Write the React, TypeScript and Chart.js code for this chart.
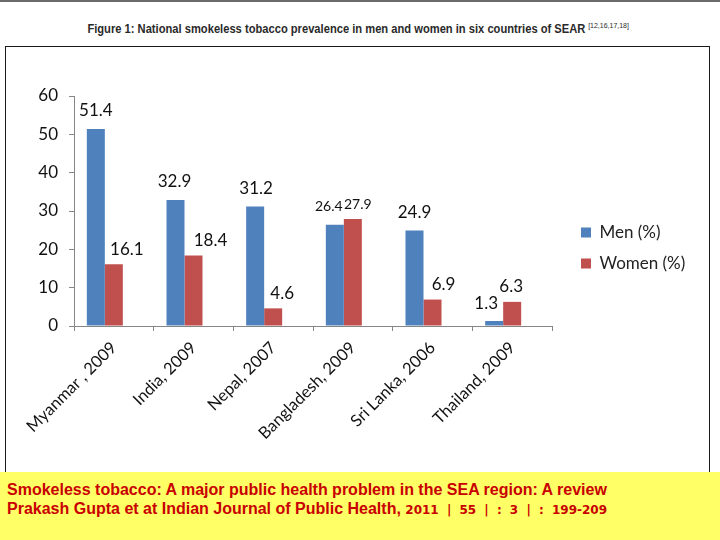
import React, { useEffect, useRef } from "react";
import { Chart, registerables } from "chart.js";

Chart.register(...registerables);

const categories = [
  "Myanmar , 2009",
  "India, 2009",
  "Nepal, 2007",
  "Bangladesh, 2009",
  "Sri Lanka, 2006",
  "Thailand, 2009",
];
const menValues = [51.4, 32.9, 31.2, 26.4, 24.9, 1.3];
const womenValues = [16.1, 18.4, 4.6, 27.9, 6.9, 6.3];
const seriesNames = ["Men (%)", "Women (%)"];
const yMax = 60;
const yStep = 10;

const FONT = "Lato, 'Open Sans', sans-serif";

// label nudges (pixels) copied from the reference's hand-placed data labels
const labelNudgeX = [
  [0, -1, 1, -6, 0, -8],
  [13, 17, 9, 5, 11, -1],
];
const labelLift = [18, 15];
const labelFontSize = [17, 17, 17, 14, 17, 17];

export default function App() {
  const ref = useRef<HTMLCanvasElement | null>(null);

  useEffect(() => {
    document.body.style.margin = "0";
    const canvas = ref.current;
    if (!canvas) return;

    const dataLabels = {
      id: "dataLabels",
      afterDatasetsDraw(chart: any) {
        const ctx = chart.ctx;
        ctx.save();
        ctx.fillStyle = "#111";
        ctx.textAlign = "center";
        ctx.textBaseline = "middle";
        [0, 1].forEach((di) => {
          const meta = chart.getDatasetMeta(di);
          meta.data.forEach((bar: any, i: number) => {
            const v = chart.data.datasets[di].data[i];
            ctx.font = `${labelFontSize[i]}px ${FONT}`;
            ctx.fillText(
              Number(v).toFixed(1),
              bar.x + labelNudgeX[di][i],
              bar.y - labelLift[di]
            );
          });
        });
        ctx.restore();
      },
    };

    const legendMove = {
      id: "legendMove",
      afterLayout(chart: any) {
        const l = chart.legend;
        if (!l) return;
        const w = l.width;
        const h = l.height;
        l.left = 561;
        l.top = 163;
        l.right = l.left + w;
        l.bottom = l.top + h;
      },
    };

    const chart = new Chart(canvas, {
      type: "bar",
      data: {
        labels: categories,
        datasets: [
          {
            label: seriesNames[0],
            data: menValues,
            backgroundColor: "#4F81BD",
            borderWidth: 0,
          },
          {
            label: seriesNames[1],
            data: womenValues,
            backgroundColor: "#C0504D",
            borderWidth: 0,
          },
          {
            label: "spacer",
            data: categories.map(() => null),
            backgroundColor: "rgba(0,0,0,0)",
            borderWidth: 0,
          },
        ],
      },
      options: {
        responsive: false,
        maintainAspectRatio: false,
        animation: false,
        layout: { padding: { top: 49, left: 0, right: 157, bottom: 0 } },
        datasets: {
          bar: { categoryPercentage: 0.678, barPercentage: 1 },
        },
        plugins: {
          legend: {
            position: "chartArea",
            align: "start",
            labels: {
              boxWidth: 10,
              boxHeight: 10,
              padding: 14,
              color: "#222",
              font: { family: FONT, size: 17 },
              filter: (item: any) => item.datasetIndex < 2,
            },
          },
          tooltip: { enabled: false },
        },
        scales: {
          x: {
            grid: {
              display: true,
              drawOnChartArea: false,
              drawTicks: true,
              tickLength: 5,
              color: "#868686",
              offset: true,
            },
            border: { display: true, color: "#868686", width: 1 },
            ticks: {
              color: "#111",
              font: { family: FONT, size: 16.5 },
              maxRotation: 45,
              minRotation: 45,
              autoSkip: false,
              padding: 7,
            },
            afterFit: (scale: any) => {
              scale.height = 146;
            },
          },
          y: {
            min: 0,
            max: yMax,
            ticks: {
              stepSize: yStep,
              color: "#111",
              font: { family: FONT, size: 17 },
              padding: 11,
            },
            grid: {
              display: true,
              drawOnChartArea: false,
              drawTicks: true,
              tickLength: 5,
              color: "#868686",
            },
            border: { display: true, color: "#868686", width: 1 },
            afterFit: (scale: any) => {
              scale.width = 68;
            },
          },
        },
      },
      plugins: [dataLabels, legendMove],
    } as any);

    return () => chart.destroy();
  }, []);

  return (
    <div
      style={{
        position: "fixed",
        left: 0,
        top: 0,
        width: 720,
        height: 540,
        background: "#ffffff",
        overflow: "hidden",
      }}
    >
      <div
        style={{
          position: "absolute",
          left: 0,
          top: 0,
          width: 720,
          height: 2,
          background: "#6a6a6a",
        }}
      />
      <div
        style={{
          position: "absolute",
          left: 0,
          top: 19,
          width: 716,
          textAlign: "center",
          whiteSpace: "nowrap",
        }}
      >
        <span
          style={{
            display: "inline-block",
            transform: "scaleX(0.93)",
            transformOrigin: "50% 50%",
            fontFamily: "'Liberation Sans', Arial, sans-serif",
            fontSize: 12,
            fontWeight: "bold",
            color: "#2a2a2a",
          }}
        >
          Figure 1: National smokeless tobacco prevalence in men and women in six countries of SEAR
          <sup style={{ fontSize: 7.5, fontWeight: "normal", marginLeft: 3 }}>[12,16,17,18]</sup>
        </span>
      </div>
      <div
        style={{
          position: "absolute",
          left: 5,
          top: 46,
          width: 703,
          height: 440,
          border: "1px solid #1a1a1a",
        }}
      >
        <canvas
          ref={ref}
          width={703}
          height={425}
          style={{ display: "block", width: 703, height: 425 }}
        />
      </div>
      <div
        style={{
          position: "absolute",
          left: 0,
          top: 472,
          width: 720,
          height: 68,
          background: "#FFFF66",
        }}
      >
        <div
          style={{
            position: "absolute",
            left: 7,
            top: 8,
            fontFamily: "'Liberation Sans', Arial, sans-serif",
            fontSize: 16,
            fontWeight: "bold",
            color: "#C80000",
            lineHeight: "19px",
            whiteSpace: "nowrap",
          }}
        >
          <div>Smokeless tobacco: A major public health problem in the SEA region: A review</div>
          <div>
            Prakash Gupta et at Indian Journal of Public Health,{" "}
            <span
              style={{
                fontFamily: "'DejaVu Sans', sans-serif",
                fontWeight: "bold",
                fontSize: 12,
                wordSpacing: 4,
              }}
            >
              2011 | 55 | : 3 | : 199-209
            </span>
          </div>
        </div>
      </div>
    </div>
  );
}
